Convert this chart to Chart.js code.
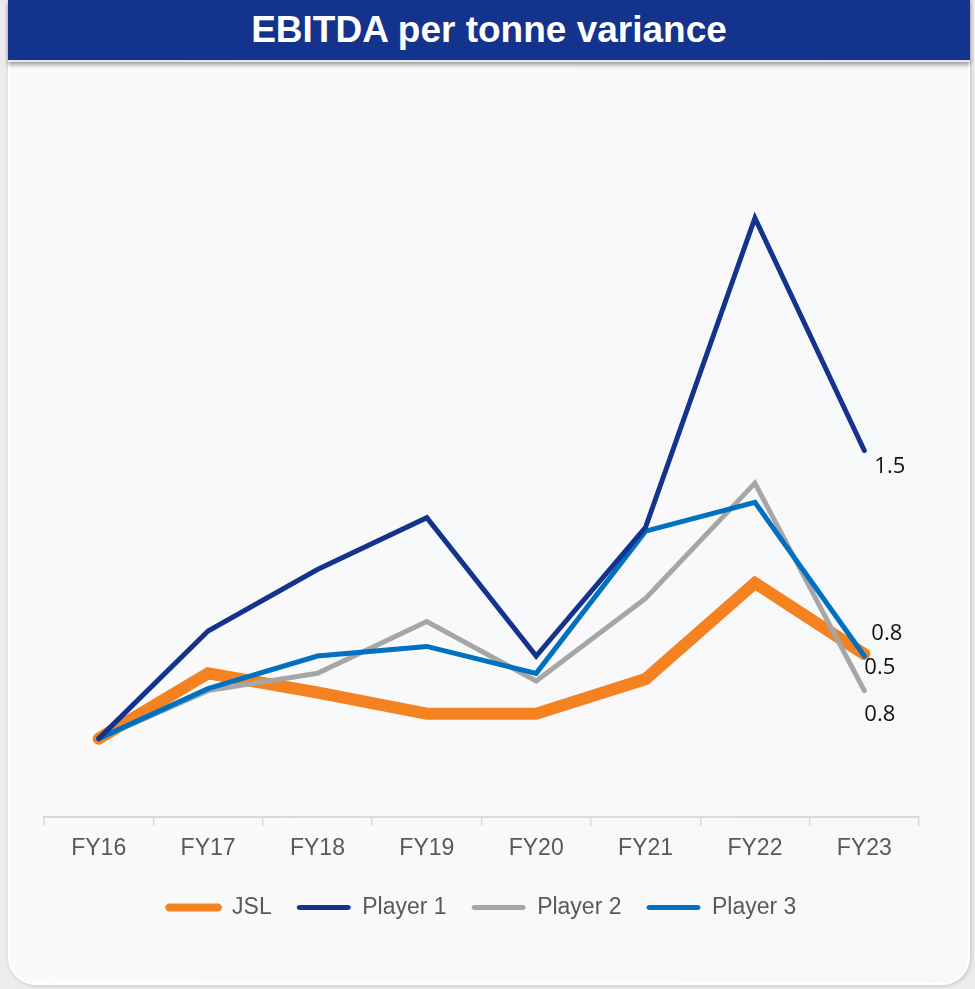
<!DOCTYPE html>
<html>
<head>
<meta charset="utf-8">
<script src="https://cdn.jsdelivr.net/npm/chart.js@4"></script>
<style>
  html, body { margin: 0; padding: 0; }
  body { width: 975px; height: 989px; background: #ececec; position: relative; overflow: hidden; font-family: "Liberation Sans", Arial, sans-serif; }
  #card { position: absolute; left: 8px; top: -30px; width: 958px; height: 1011px; background: linear-gradient(100deg, #fafafa 0%, #f7f8fa 100%); border: 2px solid #ffffff; border-radius: 28px; box-shadow: 1px 1px 4px rgba(0,0,0,0.18); }
  #header { position: absolute; left: 8px; top: 0; width: 962px; height: 60px; background: #13338c; border-bottom: 2px solid #e4e6ef; box-shadow: 0 3px 4px rgba(0,0,0,0.35); color: #fff; font-weight: bold; font-size: 37px; line-height: 60px; text-align: center; }
  #wrap { position: absolute; left: 0; top: 70px; width: 975px; height: 900px; }
</style>
</head>
<body>
<div id="card"></div>
<div id="header">EBITDA per tonne variance</div>
<div id="wrap"><canvas id="c"></canvas></div>
<script>
const categories = ["FY16", "FY17", "FY18", "FY19", "FY20", "FY21", "FY22", "FY23"];
const seriesNames = ["JSL", "Player 1", "Player 2", "Player 3"];
const jsl     = [1.00, 1.34, 1.24, 1.13, 1.13, 1.31, 1.81, 1.44];
const player1 = [1.00, 1.56, 1.88, 2.15, 1.43, 2.10, 3.71, 2.50];
const player2 = [1.00, 1.25, 1.34, 1.61, 1.30, 1.73, 2.33, 1.25];
const player3 = [1.00, 1.26, 1.43, 1.48, 1.34, 2.08, 2.23, 1.43];
const endLabels = ["0.8", "1.5", "0.8", "0.5"];

const colors = ["#f58220", "#13338c", "#a6a6a6", "#0070c0"];
const widths = [12, 5, 5, 5];
const orders = [4, 1, 3, 2];
const labelOffsets = [[7, -20], [10, 16], [0, 24], [0, 12]];

const endLabelPlugin = {
  id: 'endLabels',
  afterDatasetsDraw(chart) {
    const ctx = chart.ctx;
    ctx.save();
    ctx.font = '22px "Open Sans", "Noto Sans", sans-serif';
    ctx.fillStyle = '#111111';
    ctx.textAlign = 'left';
    ctx.textBaseline = 'middle';
    chart.data.datasets.forEach((ds, i) => {
      const meta = chart.getDatasetMeta(i);
      const pt = meta.data[meta.data.length - 1];
      ctx.fillText(endLabels[i], pt.x + labelOffsets[i][0], pt.y + labelOffsets[i][1]);
    });
    ctx.restore();
  }
};

const dataSeries = [jsl, player1, player2, player3];
new Chart(document.getElementById('c'), {
  type: 'line',
  data: {
    labels: categories,
    datasets: dataSeries.map((d, i) => ({
      label: seriesNames[i],
      data: d,
      borderColor: colors[i],
      backgroundColor: colors[i],
      borderWidth: widths[i],
      borderCapStyle: 'round',
      borderJoinStyle: 'miter',
      pointRadius: 0,
      pointHoverRadius: 0,
      tension: 0,
      fill: false,
      order: orders[i]
    }))
  },
  options: {
    responsive: true,
    maintainAspectRatio: false,
    animation: false,
    events: [],
    layout: { padding: { left: 44, right: 56, top: 100, bottom: 41 } },
    scales: {
      x: {
        offset: true,
        grid: { display: true, drawOnChartArea: false, drawTicks: true, tickLength: 8, color: '#d9d9d9', lineWidth: 1.5, offset: true },
        border: { display: true, color: '#d9d9d9', width: 2 },
        ticks: { color: '#595959', font: { family: '"Liberation Sans", Arial, sans-serif', size: 23 }, padding: 9, maxRotation: 0 }
      },
      y: {
        display: false,
        min: 0.59,
        max: 3.96
      }
    },
    plugins: {
      legend: {
        position: 'bottom',
        labels: {
          color: '#595959',
          font: { family: '"Liberation Sans", Arial, sans-serif', size: 23 },
          boxWidth: 54,
          boxHeight: 5,
          padding: 25,
          generateLabels(chart) {
            return chart.data.datasets.map((ds, i) => ({
              text: ds.label,
              fillStyle: ds.borderColor,
              strokeStyle: ds.borderColor,
              lineWidth: i === 0 ? 3 : 0,
              fontColor: '#595959',
              borderRadius: 3,
              datasetIndex: i,
              hidden: false
            }));
          }
        }
      },
      tooltip: { enabled: false }
    }
  },
  plugins: [endLabelPlugin]
});
</script>
</body>
</html>
